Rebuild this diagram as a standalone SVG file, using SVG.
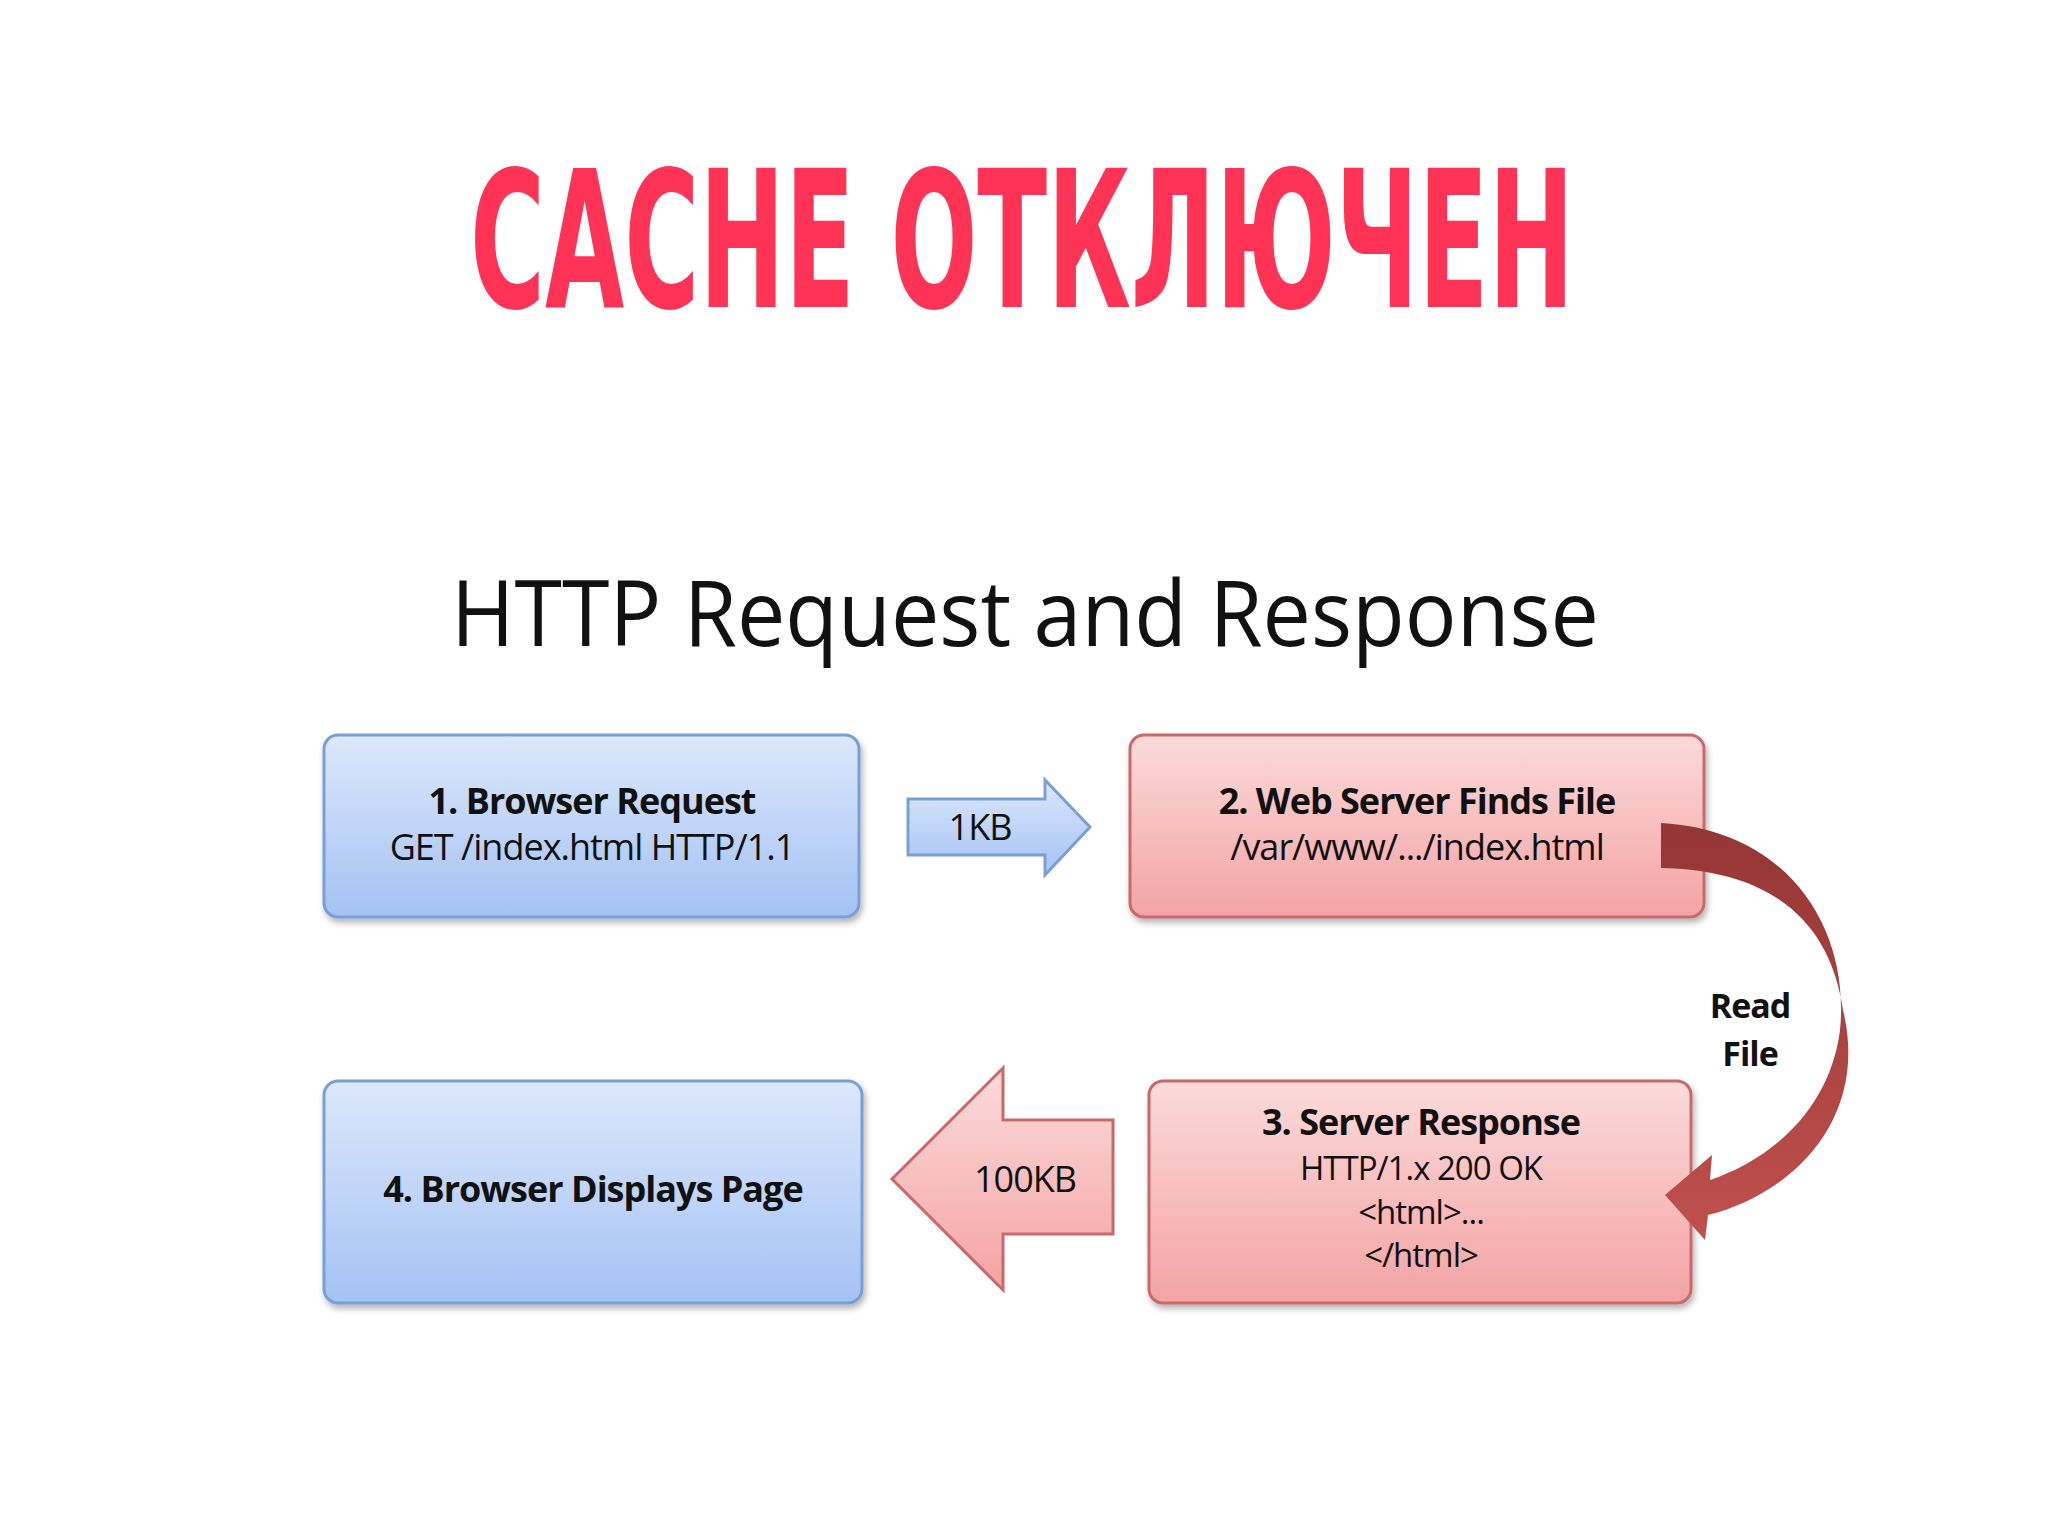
<svg xmlns="http://www.w3.org/2000/svg" width="2048" height="1536" viewBox="0 0 2048 1536">
<defs>
<linearGradient id="blue" x1="0" y1="0" x2="0" y2="1"><stop offset="0" stop-color="#dce8fb"/><stop offset="1" stop-color="#a4c2f4"/></linearGradient>
<linearGradient id="red" x1="0" y1="0" x2="0" y2="1"><stop offset="0" stop-color="#fbdada"/><stop offset="1" stop-color="#f4a3a3"/></linearGradient>
<linearGradient id="curve" x1="0" y1="0" x2="0" y2="1"><stop offset="0" stop-color="#943634"/><stop offset="1" stop-color="#c0504d"/></linearGradient>
<filter id="sh" x="-5%" y="-5%" width="110%" height="120%"><feDropShadow dx="2" dy="4" stdDeviation="3" flood-color="#000" flood-opacity="0.3"/></filter>
</defs>
<style>
.bb{fill:url(#blue);stroke:#7a9fd4;stroke-width:3;filter:url(#sh)}
.rb{fill:url(#red);stroke:#c96a6a;stroke-width:3;filter:url(#sh)}
text{font-family:"Open Sans","Liberation Sans",sans-serif;fill:#111;text-anchor:middle}
.b{font-weight:bold;font-size:36px;letter-spacing:-1px}
.n{font-size:36px;letter-spacing:-1px}
.s{font-size:33px;letter-spacing:-1px}
</style>
<rect width="2048" height="1536" fill="#fff"/>
<text x="1022" y="307" style="font-family:'DejaVu Sans Condensed','Liberation Sans Narrow','Liberation Sans',sans-serif;font-weight:bold;font-size:190px;fill:#ff3355" textLength="1104" lengthAdjust="spacingAndGlyphs">CACHE ОТКЛЮЧЕН</text>
<text x="1025" y="646" style="font-size:92px" textLength="1148" lengthAdjust="spacingAndGlyphs">HTTP Request and Response</text>
<g id="n1"><rect class="bb" x="324" y="735" width="535" height="182" rx="14"/><text class="b" x="592" y="814">1. Browser Request</text><text class="n" x="592" y="860">GET /index.html HTTP/1.1</text></g>
<g id="n2"><rect class="rb" x="1130" y="735" width="574" height="182" rx="14"/><text class="b" x="1417" y="814">2. Web Server Finds File</text><text class="n" x="1417" y="860">/var/www/.../index.html</text></g>
<g id="n3"><rect class="rb" x="1149" y="1081" width="542" height="222" rx="14"/><text class="b" x="1421" y="1135">3. Server Response</text><text class="s" x="1421" y="1180">HTTP/1.x 200 OK</text><text class="s" x="1421" y="1224">&lt;html&gt;...</text><text class="s" x="1421" y="1267">&lt;/html&gt;</text></g>
<g id="n4"><rect class="bb" x="324" y="1081" width="538" height="222" rx="14"/><text class="b" x="593" y="1202">4. Browser Displays Page</text></g>
<g id="connectors">
<path d="M908 799 H1045 V780 L1090 827 L1045 875 V855 H908 Z" fill="url(#blue)" stroke="#7a9fd4" stroke-width="3"/>
<text class="n" x="980" y="840">1KB</text>
<path d="M1113 1120 H1003 V1068 L892 1179 L1003 1290 V1234 H1113 Z" fill="url(#red)" stroke="#c96a6a" stroke-width="3"/>
<text class="n" x="1025" y="1192">100KB</text>
<path d="M1661 823 C1790 830 1850 930 1840 1030 C1830 1110 1770 1160 1710 1180 L1712 1155 L1665 1195 L1705 1240 L1708 1215 C1790 1195 1870 1120 1843 1010 C1830 920 1770 870 1661 868 Z" fill="url(#curve)"/>
<text class="b" x="1750" y="1018" style="font-size:34px">Read</text>
<text class="b" x="1750" y="1066" style="font-size:34px">File</text>
</g>
</svg>
